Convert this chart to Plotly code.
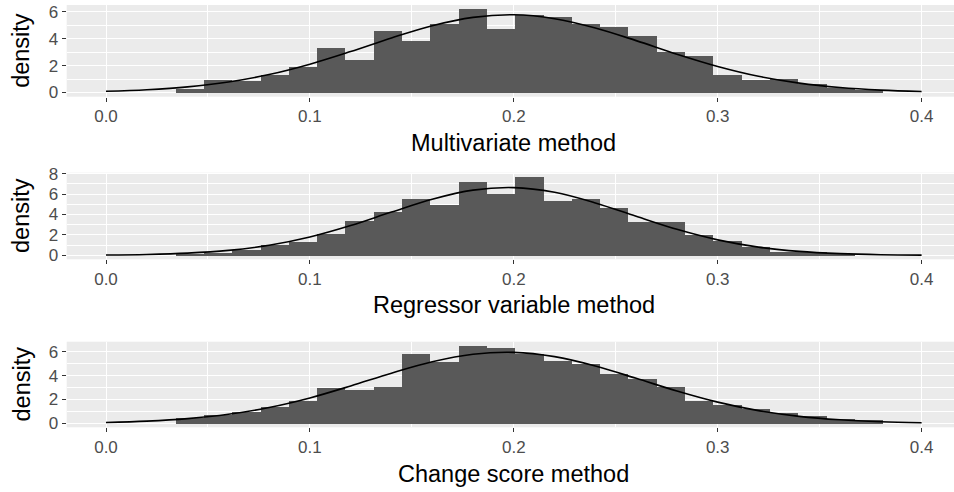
import plotly.graph_objects as go

# ---------------- data ----------------
bin_start = 0.0340          # left edge of the first histogram bin
bin_width = 0.01388         # histogram bin width

multi_density = [0.30, 0.96, 0.84, 1.34, 1.90, 3.30, 2.40, 4.60, 3.80, 5.10, 6.20, 4.75,
                 5.80, 5.60, 5.07, 4.87, 4.18, 3.00, 2.70, 1.27, 0.90, 1.00, 0.62, 0.37, 0.20]
regr_density = [0.10, 0.30, 0.55, 1.05, 1.30, 2.10, 3.40, 4.25, 5.60, 5.00, 7.20, 6.00,
                7.72, 5.36, 5.60, 4.70, 3.33, 3.27, 2.00, 1.44, 0.88, 0.40, 0.33, 0.10]
change_density = [0.45, 0.70, 0.97, 1.36, 1.90, 2.96, 2.82, 3.10, 5.86, 5.17, 6.50, 6.33,
                  5.86, 5.23, 4.95, 4.15, 3.70, 3.04, 1.90, 1.58, 1.24, 0.86, 0.65, 0.39, 0.28]

curve_x = [0.00, 0.02, 0.04, 0.06, 0.08, 0.10, 0.12, 0.14, 0.16, 0.18, 0.20,
           0.22, 0.24, 0.26, 0.28, 0.30, 0.32, 0.34, 0.36, 0.38, 0.40]
multi_curve = [0.09, 0.21, 0.42, 0.78, 1.34, 2.11, 3.05, 4.06, 4.97, 5.59, 5.78,
               5.49, 4.80, 3.86, 2.85, 1.94, 1.21, 0.70, 0.37, 0.18, 0.08]
regr_curve = [0.03, 0.09, 0.22, 0.49, 0.99, 1.80, 2.92, 4.24, 5.50, 6.39, 6.64,
              6.18, 5.14, 3.83, 2.55, 1.52, 0.81, 0.39, 0.17, 0.06, 0.02]
change_curve = [0.08, 0.19, 0.40, 0.76, 1.33, 2.13, 3.13, 4.20, 5.15, 5.78, 5.94,
                5.58, 4.80, 3.77, 2.71, 1.78, 1.07, 0.59, 0.30, 0.14, 0.06]

x_ticks = [0.0, 0.1, 0.2, 0.3, 0.4]
x_tick_labels = ["0.0", "0.1", "0.2", "0.3", "0.4"]
panel_titles = ["Multivariate method", "Regressor variable method", "Change score method"]
y_title = "density"

# ---------------- layout constants ----------------
W, H = 954, 492
FONT = "Liberation Sans, Arial, Helvetica, sans-serif"
BAR_COLOR = "#595959"
PANEL_BG = "#EBEBEB"

panel_left, panel_right = 66.7, 954.0
x_px0, x_px_per_unit = 106.0, 2039.0
x_range = [(panel_left - x_px0) / x_px_per_unit, (panel_right - x_px0) / x_px_per_unit]

panels = [
    dict(h=multi_density, c=multi_curve, top=5.0, bottom=96.7, yr=[-0.31, 6.51],
         yt=[0, 2, 4, 6], title_y=143.0),
    dict(h=regr_density, c=regr_curve, top=172.7, bottom=259.3, yr=[-0.386, 8.10],
         yt=[0, 2, 4, 6, 8], title_y=305.0),
    dict(h=change_density, c=change_curve, top=341.7, bottom=427.3, yr=[-0.325, 6.83],
         yt=[0, 2, 4, 6], title_y=474.0),
]

fig = go.Figure()
layout = dict(
    width=W, height=H, margin=dict(l=0, r=0, t=0, b=0, autoexpand=False),
    paper_bgcolor="white", plot_bgcolor=PANEL_BG, showlegend=False,
    font=dict(family=FONT, color="#4D4D4D"),
    bargap=0, annotations=[],
)

for i, p in enumerate(panels):
    n = i + 1
    xa = "x" if n == 1 else f"x{n}"
    ya = "y" if n == 1 else f"y{n}"
    centers = [bin_start + (k + 0.5) * bin_width for k in range(len(p["h"]))]
    fig.add_trace(go.Bar(x=centers, y=p["h"], width=bin_width, marker=dict(color=BAR_COLOR, line=dict(width=0)),
                         xaxis=xa, yaxis=ya, hoverinfo="skip"))
    fig.add_trace(go.Scatter(x=curve_x, y=p["c"], mode="lines",
                             line=dict(color="black", width=1.6, shape="spline", smoothing=1.0),
                             xaxis=xa, yaxis=ya, hoverinfo="skip"))
    xkey = "xaxis" if n == 1 else f"xaxis{n}"
    ykey = "yaxis" if n == 1 else f"yaxis{n}"
    layout[xkey] = dict(
        domain=[panel_left / W, panel_right / W], range=x_range, anchor=ya, automargin=False,
        tickmode="array", tickvals=x_ticks, ticktext=x_tick_labels,
        ticks="outside", ticklen=4, tickwidth=1.1, tickcolor="#333333",
        tickfont=dict(size=17, color="#4D4D4D", family=FONT),
        showgrid=True, gridcolor="white", gridwidth=1.3, zeroline=False, showline=False,
        minor=dict(tickvals=[0.05, 0.15, 0.25, 0.35], showgrid=True, gridcolor="white", gridwidth=0.7, ticks=""),
        fixedrange=True,
    )
    layout[ykey] = dict(
        domain=[1 - p["bottom"] / H, 1 - p["top"] / H], range=p["yr"], anchor=xa, automargin=False,
        tickmode="array", tickvals=p["yt"], ticktext=[str(v) for v in p["yt"]],
        ticks="outside", ticklen=4, tickwidth=1.1, tickcolor="#333333",
        tickfont=dict(size=17, color="#4D4D4D", family=FONT),
        showgrid=True, gridcolor="white", gridwidth=1.3, zeroline=False, showline=False,
        minor=dict(tickvals=[v + 1 for v in p["yt"][:-1]], showgrid=True, gridcolor="white", gridwidth=0.7, ticks=""),
        fixedrange=True,
    )
    layout["annotations"].append(dict(
        text=panel_titles[i], xref="paper", yref="paper", x=513.5 / W, y=1 - p["title_y"] / H,
        xanchor="center", yanchor="middle", showarrow=False,
        font=dict(size=23.5, color="black", family=FONT)))
    layout["annotations"].append(dict(
        text=y_title, xref="paper", yref="paper", x=21.0 / W, y=1 - (p["top"] + p["bottom"]) / 2 / H,
        xanchor="center", yanchor="middle", showarrow=False, textangle=-90,
        font=dict(size=23.5, color="black", family=FONT)))

fig.update_layout(**layout)
fig.write_html("out.html", config={"displayModeBar": False},
               post_script="document.body.style.margin='0';document.body.style.overflow='hidden';")
